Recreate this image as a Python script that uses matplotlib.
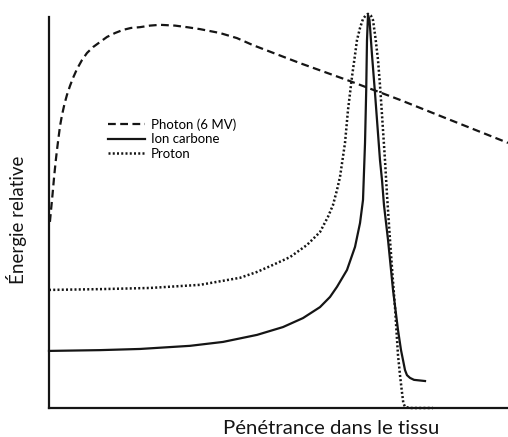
import numpy as np
import matplotlib
matplotlib.use('Agg')
import matplotlib.pyplot as plt

# ===== DATA (depth 0-100, relative energy 0-100) =====
photon_x = [0.2, 0.44, 0.76, 1.09, 1.42, 1.74, 2.07, 2.40, 2.83, 3.38, 3.92, 4.58,
            5.23, 6.10, 7.19, 8.28, 9.59, 11.11, 12.64, 14.38, 16.12, 17.86, 19.83,
            22.00, 24.18, 27.45, 30.07, 32.90, 37.25, 40.96, 44.44, 54.68, 65.58,
            76.47, 87.36, 100.0]
photon_y = [47.6, 50.6, 54.5, 58.8, 62.7, 66.0, 69.1, 72.1, 74.9, 77.8, 80.1, 82.4,
            84.4, 86.7, 89.0, 90.8, 92.3, 93.6, 94.9, 95.9, 96.7, 97.2, 97.4,
            97.8, 98.0, 97.8, 97.4, 96.9, 95.9, 94.6, 92.8, 88.2, 83.6,
            78.8, 73.7, 67.8]

carbon_x = [0.0, 11.11, 19.83, 30.72, 37.91, 45.32, 50.98, 55.34, 59.04, 61.22, 62.75,
            64.92, 66.67, 67.76, 68.41, 68.85, 69.11, 69.28, 69.50, 69.83, 70.37, 71.02,
            72.11, 72.55, 72.98, 73.86, 74.95, 76.03, 76.69, 77.12, 77.56, 77.99, 78.65,
            79.52, 81.92]
carbon_y = [14.6, 14.8, 15.1, 15.9, 16.9, 18.7, 20.7, 23.0, 25.8, 28.4, 31.0,
            35.3, 41.2, 47.3, 53.2, 67.8, 81.3, 94.1, 100.5, 99.2, 90.3, 80.6,
            63.4, 58.3, 51.9, 43.0, 30.2, 20.0, 14.8, 12.3, 9.7, 8.4, 7.7,
            7.2, 6.9]

proton_x = [0.0, 11.11, 22.00, 32.90, 41.61, 45.32, 48.80, 52.51, 56.21, 59.04, 60.78,
            61.87, 62.75, 63.40, 64.49, 65.14, 66.01, 66.67, 67.10, 67.76, 68.41, 69.06,
            69.50, 70.15, 70.59, 71.13, 71.68, 72.11, 72.48, 73.20, 73.64, 74.29, 74.84,
            75.38, 76.03, 76.47, 76.84, 77.19, 77.56, 78.65, 83.66]
proton_y = [30.2, 30.4, 30.7, 31.5, 33.3, 34.8, 36.6, 38.6, 41.7, 45.0, 48.9,
            51.9, 55.8, 59.1, 67.8, 76.2, 84.7, 90.3, 94.1, 97.2, 99.5, 100.5,
            100.8, 100.3, 99.2, 94.6, 89.0, 82.6, 76.2, 63.4, 54.5, 43.0, 34.0,
            25.8, 13.6, 8.4, 4.6, 1.3, 0.3, 0.0, 0.0]

labels = ['Photon (6 MV)', 'Ion carbone', 'Proton']

# ===== PLOT =====
plt.rcParams['font.family'] = ['Lato', 'DejaVu Sans']
ink = '#151515'

fig = plt.figure(figsize=(5.08, 4.37), dpi=100)
ax = fig.add_axes([49 / 508, 29 / 437, 459 / 508, 391 / 437])

ax.plot(photon_x, photon_y, color=ink, lw=1.6, linestyle=(0, (3.5, 2)),
        label=labels[0], clip_on=False)
ax.plot(carbon_x, carbon_y, color=ink, lw=1.6, linestyle='-',
        label=labels[1], clip_on=False, zorder=3)
ax.plot(proton_x, proton_y, color=ink, lw=1.8, linestyle=(0, (0.8, 0.9)),
        label=labels[2], clip_on=False)

ax.set_xlim(0, 100)
ax.set_ylim(0, 100)
ax.set_xticks([])
ax.set_yticks([])
for s in ['top', 'right']:
    ax.spines[s].set_visible(False)
for s in ['left', 'bottom']:
    ax.spines[s].set_linewidth(1.6)
    ax.spines[s].set_color(ink)

# axis titles (placed off-centre like the original)
fig.text(331 / 508, 1 - 428 / 437, 'Pénétrance dans le tissu', ha='center', va='center',
         fontsize=14.7, color=ink)
fig.text(17 / 508, 1 - 220 / 437, 'Énergie relative', ha='center', va='center',
         rotation=90, fontsize=13.5, color=ink)

ax.legend(loc='upper left', bbox_to_anchor=(108 / 508, 1 - 118 / 437),
          bbox_transform=fig.transFigure, frameon=False, fontsize=9.5,
          handlelength=2.8, handletextpad=0.45, labelspacing=0.2, borderpad=0,
          borderaxespad=0)

fig.savefig('out.png', dpi=100)
